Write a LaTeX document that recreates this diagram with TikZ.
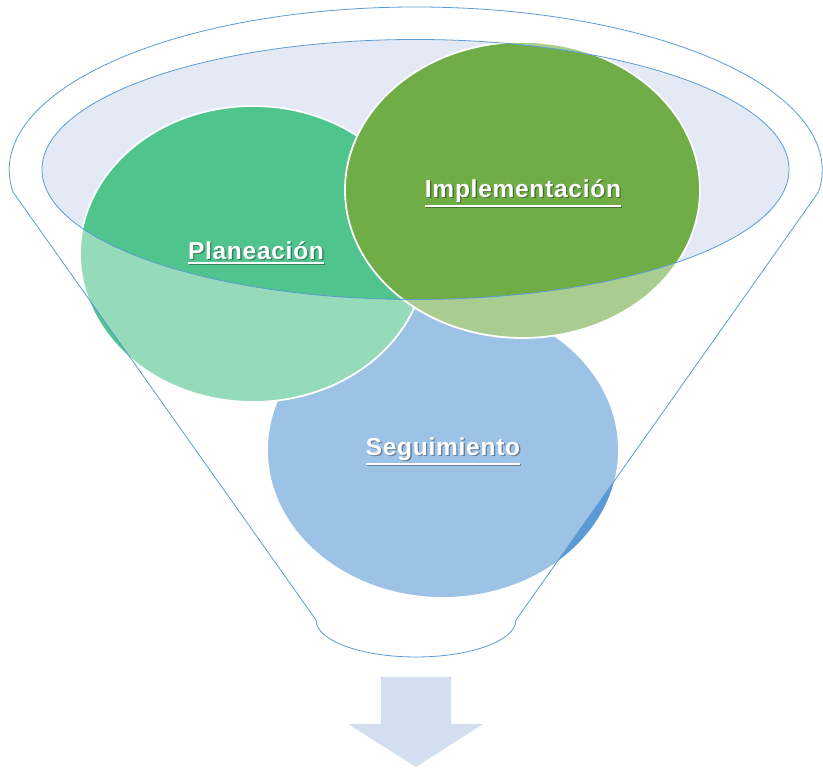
\documentclass[tikz,border=0pt]{standalone}
\usepackage{fontspec}
\setmainfont{Liberation Sans}
\newfontfamily\stagefont{Liberation Sans}[LetterSpace=3]
\usetikzlibrary{shapes.geometric}
\definecolor{planfill}{RGB}{79,196,140}
\definecolor{implfill}{RGB}{112,173,71}
\definecolor{segfill}{RGB}{91,155,213}
\definecolor{rimfill}{RGB}{227,234,246}
\definecolor{rimline}{RGB}{91,155,213}
\definecolor{arrowfill}{RGB}{211,223,240}
\newcommand{\uword}[1]{\vtop{\hbox{#1}\kern2.5pt\hrule height 2pt}}
\begin{document}
\begin{tikzpicture}%
	[x=1pt, y=1pt,
	rim/.style={draw=rimline, line width=0.8pt},
	cone/.style={fill=white, fill opacity=0.4, even odd rule},
	stage/.style={ellipse, draw=white, line width=1.8pt, inner sep=0pt, minimum height=296},
	stagelabel/.style={text=white, inner sep=0pt, font=\stagefont\bfseries\fontsize{24.5}{29}\selectfont},
	stageshadow/.style={stagelabel, text=black, opacity=0.35},
	outarrow/.style={fill=arrowfill}]
%
\useasboundingbox (0,0) rectangle (823,770);
%%
%% Drawing the opening in the back
%%
\fill[rimfill] (415.5,600.5) ellipse [x radius=373.5, y radius=130];
%%
%% Drawing the stages
%%
\node[stage, fill=segfill, minimum width=352] (seg) at (443,320) {};
\node[stage, fill=planfill, minimum width=346] (plan) at (253,516) {};
\node[stage, fill=implfill, minimum width=355] (impl) at (522.5,580) {};
%%
%% Drawing the funnel in the front
%%
\path[cone, rim] (13,578) arc [start angle=187.76, end angle=-7.76, x radius=406.5, y radius=163]
	-- (516,150) arc [start angle=0, end angle=-180, x radius=100, y radius=37] -- cycle
	(415.5,600.5) ellipse [x radius=373.5, y radius=130];
%%
%% Drawing the labels
%%
\node[stageshadow] (plan-shadow) at ([shift={(4.3,0)}]plan.center) {\uword{Planeación}};
\node[stagelabel] (plan-label) at ([shift={(3,1.5)}]plan.center) {\uword{Planeación}};
\node[stageshadow] (impl-shadow) at ([shift={(1.8,-4.5)}]impl.center) {\uword{Implementación}};
\node[stagelabel] (impl-label) at ([shift={(0.5,-3)}]impl.center) {\uword{Implementación}};
\node[stageshadow] (seg-shadow) at ([shift={(1.3,-2.5)}]seg.center) {\uword{Seguimiento}};
\node[stagelabel] (seg-label) at ([shift={(0,-1)}]seg.center) {\uword{Seguimiento}};
%%
%% Drawing the outlet arrow
%%
\fill[outarrow] (381,93) -- (451,93) -- (451,46) -- (483,46) -- (416,3) -- (348,46) -- (381,46) -- cycle;
\end{tikzpicture}
\end{document}
